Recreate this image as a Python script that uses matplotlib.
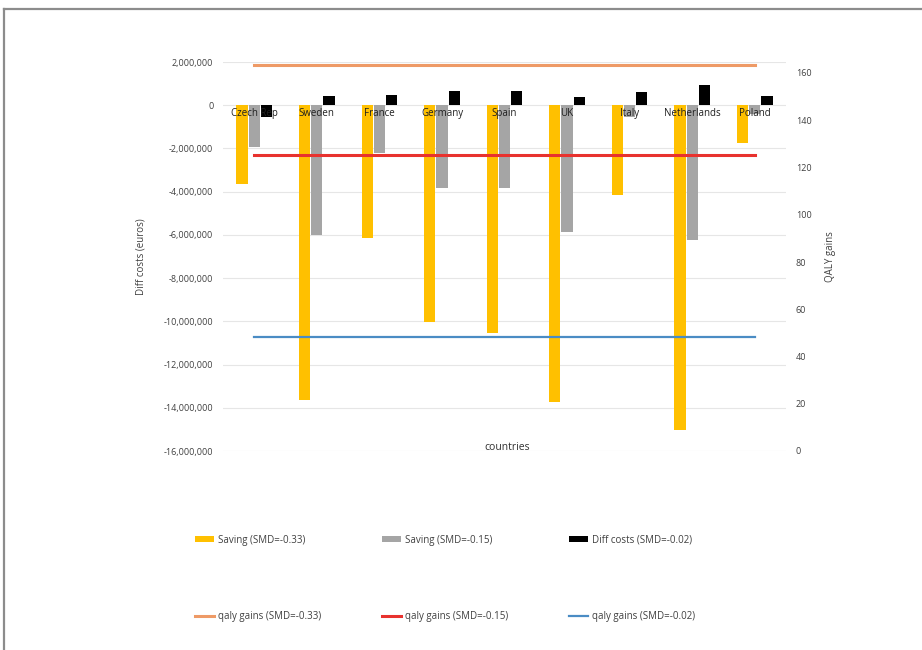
import matplotlib
matplotlib.use("Agg")
import matplotlib.pyplot as plt
import numpy as np
from matplotlib.lines import Line2D
from matplotlib.patches import Patch
from matplotlib.ticker import FuncFormatter

countries = ["Czech Rep", "Sweden", "France", "Germany", "Spain", "UK", "Italy", "Netherlands", "Poland"]
saving_033 = [-3640000, -13640000, -6130000, -10030000, -10550000, -13720000, -4150000, -15020000, -1740000]
saving_015 = [-1940000, -5990000, -2200000, -3840000, -3810000, -5880000, -550000, -6240000, -400000]
diff_costs_002 = [-550000, 415000, 490000, 645000, 645000, 370000, 613000, 950000, 415000]
qaly_033 = [163.4] * 9
qaly_015 = [125.3] * 9
qaly_002 = [48.3] * 9

left_ticks = list(range(-16000000, 2000001, 2000000))
right_ticks = list(range(0, 161, 20))

labels_bar = ["Saving (SMD=-0.33)", "Saving (SMD=-0.15)", "Diff costs (SMD=-0.02)"]
labels_line = ["qaly gains (SMD=-0.33)", "qaly gains (SMD=-0.15)", "qaly gains (SMD=-0.02)"]

plt.rcParams['font.family'] = ['Open Sans', 'DejaVu Sans']

W, H = 922, 650
fig = plt.figure(figsize=(W / 100, H / 100), dpi=100)
fig.patch.set_facecolor("white")

# frame lines (top and left)
fig.add_artist(Line2D([4 / W, 4 / W], [0, 1 - 9 / H], transform=fig.transFigure, color="#8c8c8c", lw=1.6))
fig.add_artist(Line2D([4 / W, 1], [1 - 9 / H, 1 - 9 / H], transform=fig.transFigure, color="#8c8c8c", lw=1.6))

x0, x1 = 223 / W, 786 / W
y0, y1 = 1 - 451 / H, 1 - 62 / H
ax = fig.add_axes([x0, y0, x1 - x0, y1 - y0])
ax2 = ax.twinx()

x = np.arange(len(countries))
w = 0.18
off = 0.195
c_y, c_g, c_b = "#FFC000", "#A5A5A5", "#000000"
c_o, c_r, c_bl = "#EE9A66", "#E8322E", "#4A8CC4"

ax.bar(x - off, saving_033, width=w, color=c_y, zorder=3)
ax.bar(x, saving_015, width=w, color=c_g, zorder=3)
ax.bar(x + off, diff_costs_002, width=w, color=c_b, zorder=3)

ax.set_xlim(-0.5, len(countries) - 0.5)
ax.set_ylim(-16000000, 2000000)
ax.set_yticks(left_ticks)
ax.yaxis.set_major_formatter(FuncFormatter(lambda v, p: f"{int(v):,}"))
ax.grid(axis="y", color="#e6e6e6", lw=0.8, zorder=0)
ax.set_axisbelow(True)
ax.set_xticks([])
for s in ax.spines.values():
    s.set_visible(False)
ax.tick_params(axis="y", length=0, labelsize=6.5, labelcolor="#404040", pad=7)

for xi, name in zip(x, countries):
    ax.text(xi, -400000, name, ha="center", va="center", fontsize=7, color="#202020", zorder=5)

ax.set_ylabel("Diff costs (euros)", fontsize=7, color="#404040", labelpad=12)
ax.text(len(countries) / 2 - 0.5 + 0.05, -15850000, "countries", ha="center", va="center",
        fontsize=7.5, color="#303030")

ymax2 = 160 * 389 / 378
ax2.set_ylim(0, ymax2)
ax2.set_yticks(right_ticks)
ax2.plot(x, qaly_033, color=c_o, lw=2.2, zorder=4)
ax2.plot(x, qaly_015, color=c_r, lw=2.2, zorder=4)
ax2.plot(x, qaly_002, color=c_bl, lw=1.6, zorder=4)
for s in ax2.spines.values():
    s.set_visible(False)
ax2.tick_params(axis="y", length=0, labelsize=6.5, labelcolor="#404040", pad=7)
ax2.set_ylabel("QALY gains", fontsize=7, color="#404040", labelpad=10)

# legends
handles_bar = [Patch(facecolor=c_y), Patch(facecolor=c_g), Patch(facecolor=c_b)]
handles_line = [Line2D([], [], color=c_o, lw=2.2), Line2D([], [], color=c_r, lw=2.2),
                Line2D([], [], color=c_bl, lw=1.6)]
xs = [186, 373, 560]
for h, lab, xp in zip(handles_bar, labels_bar, xs):
    fig.legend(handles=[h], labels=[lab], loc="center left", bbox_to_anchor=(xp / W, 1 - 540 / H),
               frameon=False, fontsize=7, handlelength=2.0, handleheight=0.5, handletextpad=0.4,
               labelcolor="#404040")
for h, lab, xp in zip(handles_line, labels_line, xs):
    fig.legend(handles=[h], labels=[lab], loc="center left", bbox_to_anchor=(xp / W, 1 - 617 / H),
               frameon=False, fontsize=7, handlelength=2.0, handletextpad=0.4, labelcolor="#404040")

fig.savefig("out.png", dpi=100, facecolor="white")
